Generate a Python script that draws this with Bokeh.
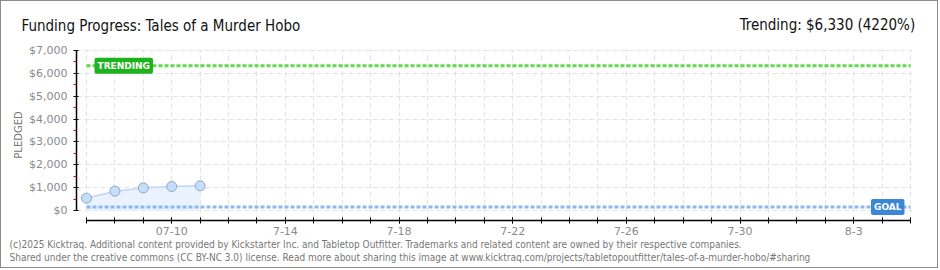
import pandas as pd
from bokeh.plotting import figure
from bokeh.models import (Range1d, FixedTicker, Label, ColumnDataSource)
from bokeh.embed import file_html
from bokeh.resources import INLINE

# ---------------- data ----------------
campaign_start = "2025-07-07"
campaign_end = "2025-08-05"
dates = ["2025-07-07", "2025-07-08", "2025-07-09", "2025-07-10", "2025-07-11"]
pledged = [540, 845, 990, 1050, 1080]
goal = 150
trending = 6330
trend_pct = 4220
y_ticks = [0, 1000, 2000, 3000, 4000, 5000, 6000, 7000]
y_tick_labels = ["$0", "$1,000", "$2,000", "$3,000", "$4,000", "$5,000", "$6,000", "$7,000"]
x_tick_dates = ["2025-07-10", "2025-07-14", "2025-07-18", "2025-07-22",
                "2025-07-26", "2025-07-30", "2025-08-03"]
x_tick_labels = ["07-10", "7-14", "7-18", "7-22", "7-26", "7-30", "8-3"]
title = "Funding Progress: Tales of a Murder Hobo"
footer1 = ("(c)2025 Kicktraq. Additional content provided by Kickstarter Inc. and Tabletop Outfitter. "
           "Trademarks and related content are owned by their respective companies.")
footer2 = ("Shared under the creative commons (CC BY-NC 3.0) license. Read more about sharing this image at "
           "www.kicktraq.com/projects/tabletopoutfitter/tales-of-a-murder-hobo/#sharing")

# ---------------- derived ----------------
t0 = pd.Timestamp(campaign_start)
def day(d):
    return (pd.Timestamp(d) - t0).days
xs = [day(d) for d in dates]
n_days = day(campaign_end)
all_days = list(range(0, n_days + 1))
maj_x = [day(d) for d in x_tick_dates]

W, H = 938, 268          # + 1px CSS border each side -> 940 x 270
OFF = 1                  # canvas offset due to the border
FL, FR, FT, FB = 76 - OFF, 912 - OFF, 49 - OFF, 220 - OFF
px_day = (910 - 86) / n_days
x0 = -(86 - 76) / px_day
x1 = n_days + (912 - 910) / px_day
px_usd = (210 - 50) / 7000.0
y0 = -(220 - 210) / px_usd
y1 = 7000 + (50 - 49) / px_usd

p = figure(width=W, height=H, output_backend="svg", toolbar_location=None,
           x_range=Range1d(x0, x1), y_range=Range1d(y0, y1),
           min_border_left=FL, min_border_right=W - FR,
           min_border_top=FT, min_border_bottom=H - FB)
p.styles = {"border": "1px solid #8c8c8c"}
p.outline_line_color = None
p.background_fill_color = "white"
p.border_fill_color = "white"

# grids
p.xgrid.ticker = FixedTicker(ticks=all_days)
p.ygrid.ticker = FixedTicker(ticks=y_ticks)
for g in (p.xgrid, p.ygrid):
    g.grid_line_color = "#e3e3e3"
    g.grid_line_dash = "5 3"
    g.grid_line_width = 1

# axes
xa = p.xaxis[0]
xa.ticker = FixedTicker(ticks=maj_x, minor_ticks=all_days)
xa.major_label_overrides = {d: l for d, l in zip(maj_x, x_tick_labels)}
xa.bounds = (0, n_days)
xa.axis_line_color = "black"
xa.axis_line_width = 1.5
xa.major_tick_in = 3
xa.major_tick_out = 3
xa.minor_tick_in = 3
xa.minor_tick_out = 3
xa.major_tick_line_color = "black"
xa.minor_tick_line_color = "black"
xa.major_label_text_font = "DejaVu Sans"
xa.major_label_text_font_size = "11px"
xa.major_label_text_color = "#8a8a8a"
xa.major_label_standoff = 3

ya = p.yaxis[0]
ya.ticker = FixedTicker(ticks=y_ticks, minor_ticks=[v + 500 for v in y_ticks[:-1]])
ya.major_label_overrides = {v: l for v, l in zip(y_ticks, y_tick_labels)}
ya.bounds = (0, 7000)
ya.axis_line_color = "black"
ya.axis_line_width = 1.5
ya.major_tick_in = 2
ya.major_tick_out = 3
ya.minor_tick_in = 0
ya.minor_tick_out = 3
ya.major_tick_line_color = "black"
ya.minor_tick_line_color = "#e00000"
ya.major_label_text_font = "DejaVu Sans"
ya.major_label_text_font_size = "11px"
ya.major_label_text_color = "#8a8a8a"
ya.major_label_standoff = 6
ya.axis_label = "PLEDGED"
ya.axis_label_text_font = "DejaVu Sans"
ya.axis_label_text_font_size = "10px"
ya.axis_label_text_font_style = "normal"
ya.axis_label_text_color = "#777777"
ya.axis_label_standoff = 2

# data
src = ColumnDataSource(dict(x=xs, y=pledged, base=[0] * len(xs)))
p.varea(x="x", y1="base", y2="y", source=src, fill_color="#eaf3fd")
p.line(x="x", y="y", source=src, line_color="#bcd6f4", line_width=1.5)

# goal and trending lines
p.line(x=[0, n_days], y=[goal, goal], line_color="#8db8ea", line_width=3, line_dash="4 2")
p.line(x=[0, n_days], y=[trending, trending], line_color="#62d84e", line_width=3, line_dash="4 2")

p.scatter(x="x", y="y", source=src, size=10, fill_color="#c6defa", line_color="#8ea6c6", line_width=1)

# labels on lines
p.add_layout(Label(x=0, y=trending, x_offset=8, text="TRENDING", text_baseline="middle",
                   text_align="left", text_color="white", text_font="DejaVu Sans",
                   text_font_size="9px", text_font_style="bold",
                   background_fill_color="#1db31d", padding=3, border_radius=2))
p.add_layout(Label(x=n_days, y=goal, x_offset=-6, text="GOAL", text_baseline="middle",
                   text_align="right", text_color="white", text_font="DejaVu Sans",
                   text_font_size="9px", text_font_style="bold",
                   background_fill_color="#3b87d6", padding=3, border_radius=2))

def add_text(side, cx, cy, text, size, color, font="DejaVu Sans Condensed", align="left",
             baseline="middle", line_height=1.2):
    p.add_layout(Label(x=cx - OFF, y=cy - OFF, x_units="canvas", y_units="canvas", text=text,
                       text_font=font, text_font_size=size, text_color=color,
                       text_align=align, text_baseline=baseline,
                       text_line_height=line_height), side)

add_text("above", 20, 24, title, "15px", "#111111")
add_text("above", 918, 23, f"Trending:  ${trending:,} ({trend_pct}%)", "15px", "#111111", align="right")
add_text("below", 8, 237, footer1 + "\n" + footer2, "10px", "#777777", baseline="top", line_height=1.2)

open("out.html", "w").write(file_html(p, INLINE))
